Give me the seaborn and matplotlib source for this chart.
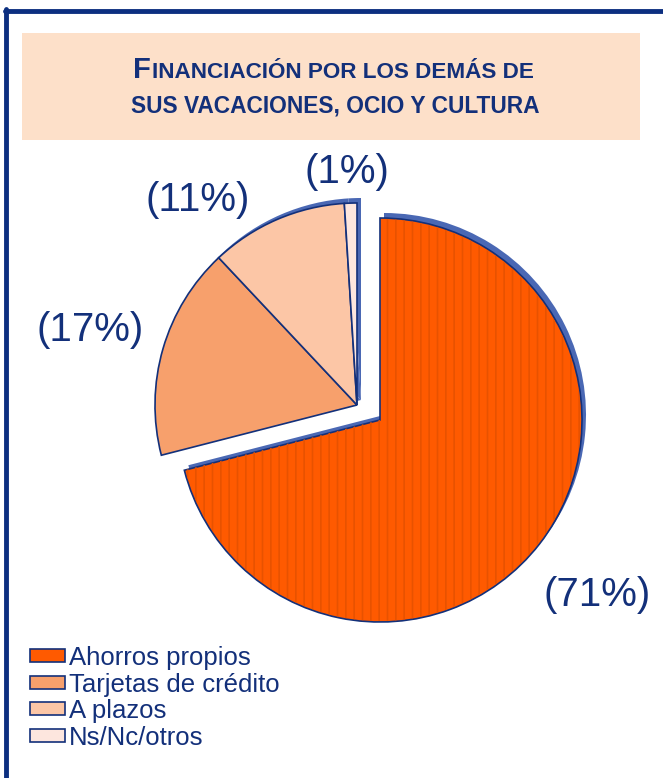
import matplotlib
matplotlib.use("Agg")
import matplotlib.pyplot as plt
from matplotlib.patches import Patch, Rectangle
import seaborn as sns

# data
categories = ["Ahorros propios", "Tarjetas de crédito", "A plazos", "Ns/Nc/otros"]
values = [71, 17, 11, 1]
pct_labels = ["(71%)", "(17%)", "(11%)", "(1%)"]
colors = ["#ff5a00", "#f7a06c", "#fcc6a6", "#fde6de"]

title_first = "F"
title_rest = "INANCIACIÓN POR LOS DEMÁS DE"
title_line2 = "SUS VACACIONES, OCIO Y CULTURA"

sns.set_theme(style="white")
plt.rcParams["font.family"] = ["Liberation Sans", "DejaVu Sans"]
plt.rcParams["hatch.linewidth"] = 1.2

navy = "#13307a"
shadow = "#4a68b4"
W, H = 663, 778
R = 202.0          # pie radius in pixels
cx, cy = 368, 412  # pie centre in pixels

fig = plt.figure(figsize=(W / 100, H / 100), dpi=100)
ax = fig.add_axes([0, 0, 1, 1])


def px(x, y):
    # pixel position -> data units (1 unit = pie radius)
    return (x - cx) / R, (cy - y) / R


big_off = px(cx + 12, cy + 8)
small_off = px(cx - 11, cy - 7)
sh = (4 / R, 5 / R)

big_cols = [colors[0], "none", "none", "none"]
small_cols = ["none"] + colors[1:]

# shadow layer
for cols, off in [(big_cols, big_off), (small_cols, small_off)]:
    shcols = [shadow if c != "none" else "none" for c in cols]
    ax.pie(values, colors=shcols, startangle=90, counterclock=False,
           center=(off[0] + sh[0], off[1] + sh[1]), radius=1,
           wedgeprops=dict(linewidth=0))

# main wedges
for cols, off in [(big_cols, big_off), (small_cols, small_off)]:
    wedges, _ = ax.pie(values, colors=cols, startangle=90, counterclock=False,
                       center=off, radius=1,
                       wedgeprops=dict(linewidth=1.2))
    for w, c in zip(wedges, cols):
        w.set_edgecolor(navy if c != "none" else "none")

# vertical stripe texture on the big slice
stripes, _ = ax.pie(values, colors=["none"] * 4, startangle=90,
                    counterclock=False, center=big_off, radius=0.995,
                    wedgeprops=dict(linewidth=0))
stripes[0].set_hatch("||")
stripes[0].set_edgecolor("#e85200")

# percentage labels
label_px = [(597, 595), (90, 330), (198, 200), (347, 172)]
for lab, (x, y) in zip(pct_labels, label_px):
    ax.text(*px(x, y), lab, ha="center", va="center", fontsize=29,
            color=navy)

x0, y0 = px(0, 0)
x1, y1 = px(W, H)
ax.set_xlim(x0, x1)
ax.set_ylim(y1, y0)
ax.set_aspect("equal")
ax.axis("off")

# frame (top and left edges only visible)
fig.add_artist(plt.Line2D([6 / W, 6 / W], [0, 1 - 9 / H], color="#0c2f80",
                          lw=3.5, transform=fig.transFigure))
fig.add_artist(plt.Line2D([4.5 / W, 1], [1 - 11 / H, 1 - 11 / H],
                          color="#0c2f80", lw=3.5, transform=fig.transFigure))

# title box
fig.add_artist(Rectangle((22 / W, 1 - 140 / H), (640 - 22) / W, (140 - 33) / H,
                         facecolor="#fde0c9", edgecolor="none",
                         transform=fig.transFigure))

fig.canvas.draw()
renderer = fig.canvas.get_renderer()
tfont = dict(color=navy, fontweight="bold",
             family=["Liberation Sans Narrow", "Liberation Sans", "DejaVu Sans"])
t1 = fig.text(0, 0, title_first, fontsize=21, **tfont)
t2 = fig.text(0, 0, title_rest, fontsize=16.2, **tfont)
w1 = t1.get_window_extent(renderer).width
w2 = t2.get_window_extent(renderer).width
start = 333 - (w1 + w2 + 1) / 2
t1.set_position((start / W, 1 - 78 / H))
t2.set_position(((start + w1 + 1) / W, 1 - 78 / H))
fig.text(335 / W, 1 - 113 / H, title_line2, fontsize=16.4, ha="center", **tfont)

# legend
handles = [Patch(facecolor=c, edgecolor=navy, linewidth=1.2) for c in colors]
leg = fig.legend(handles, categories, loc="upper left",
                 bbox_to_anchor=(30 / W, 1 - 646 / H), frameon=False,
                 fontsize=18.5, handlelength=1.35, handleheight=0.4,
                 handletextpad=0.15, labelspacing=0.1, borderpad=0,
                 borderaxespad=0)
for t in leg.get_texts():
    t.set_color(navy)

fig.savefig("out.png", dpi=100)
